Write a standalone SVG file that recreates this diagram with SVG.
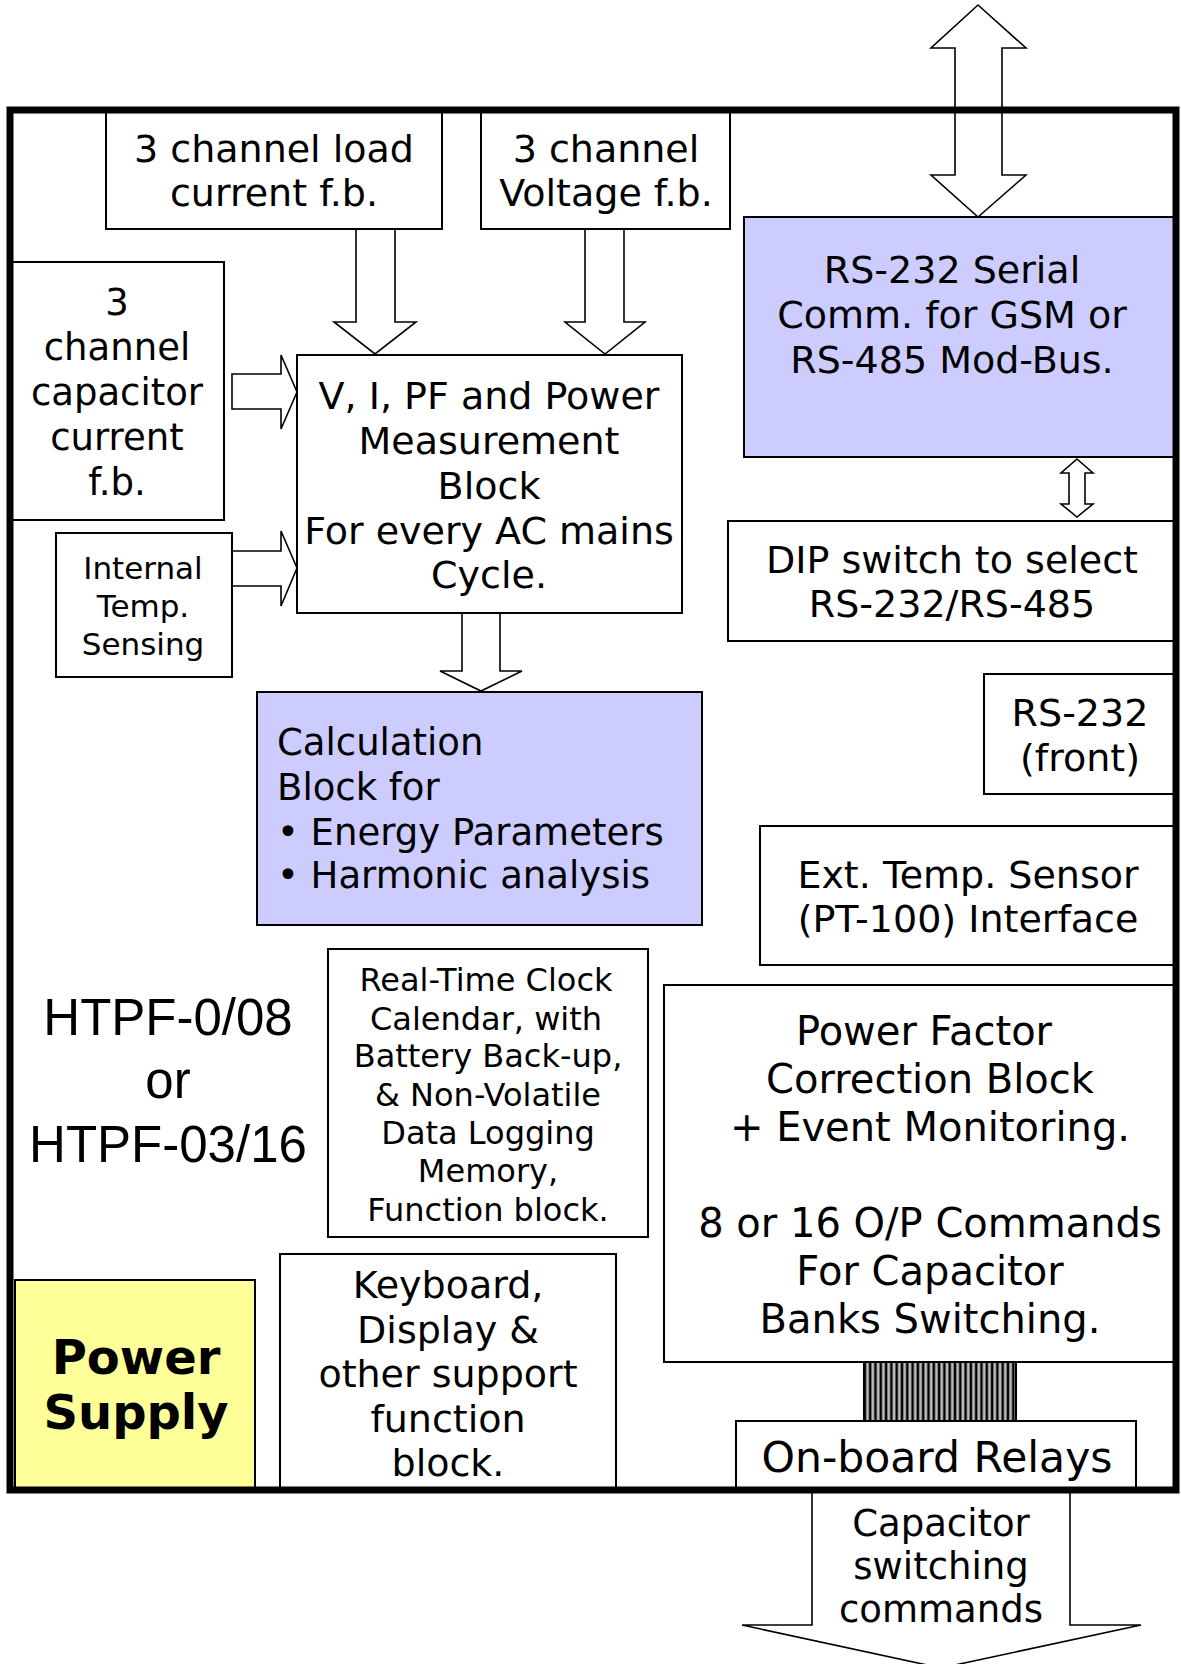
<svg xmlns="http://www.w3.org/2000/svg" width="1181" height="1664" viewBox="0 0 1181 1664">
<style>
.box{fill:#fff;stroke:#000;stroke-width:2}
.blue{fill:#CCCCFF;stroke:#000;stroke-width:2}
.yellow{fill:#FFFF99;stroke:#000;stroke-width:2}
.arr{fill:#fff;stroke:#000;stroke-width:1.6;stroke-linejoin:miter}
text{font-family:"DejaVu Sans",Verdana,sans-serif;fill:#000}
.t38{font-size:38px;text-anchor:middle}
.t37{font-size:37px;text-anchor:middle}
.t40{font-size:40px;text-anchor:middle}
.t32{font-size:32px;text-anchor:middle}
.t31{font-size:31px;text-anchor:middle}
.htpf{font-family:"Liberation Sans",Arial,sans-serif;font-size:51px;text-anchor:middle}
.bold{font-weight:bold;font-size:48px;text-anchor:middle}
</style>
<defs>
<pattern id="stripes" x="864" y="0" width="5.3" height="10" patternUnits="userSpaceOnUse">
<rect x="0" y="0" width="5.3" height="10" fill="#c8c8c8"/>
<rect x="0" y="0" width="1.8" height="10" fill="#000"/>
<rect x="1.8" y="0" width="1" height="10" fill="#6e6e6e"/>
<rect x="4.3" y="0" width="1" height="10" fill="#6e6e6e"/>
</pattern>
</defs>
<rect width="1181" height="1664" fill="#fff"/>

<g id="connectors">
<polygon class="arr" points="978,5 1026,48 1002,48 1002,175 1026,175 978,217 931,175 955,175 955,48 931,48"/>
<polygon class="arr" points="356,229 395,229 395,322 416,322 375,354 334,322 356,322"/>
<polygon class="arr" points="585,229 624,229 624,322 645,322 605,354 565,322 585,322"/>
<polygon class="arr" points="232,374 281,374 281,355 297,392 281,429 281,409 232,409"/>
<polygon class="arr" points="232,551 281,551 281,531 297,568 281,606 281,586 232,586"/>
<polygon class="arr" points="462,613 500,613 500,671 522,671 481,691 440,671 462,671"/>
<polygon class="arr" points="1077,459 1093,473 1085,473 1085,504 1093,504 1077,517 1061,504 1069,504 1069,473 1061,473"/>
<polygon class="arr" points="812,1490 1070,1490 1070,1625 1141,1625 941,1668 742,1625 812,1625"/>
<rect id="hatch" x="864" y="1362" width="152" height="59" fill="url(#stripes)" stroke="#000" stroke-width="2"/>
</g>

<g id="load-current">
<rect class="box" x="106" y="110" width="336" height="119"/>
<text class="t38" x="274" y="162">3 channel load</text>
<text class="t38" x="274" y="206">current f.b.</text>
</g>

<g id="voltage">
<rect class="box" x="481" y="110" width="249" height="119"/>
<text class="t38" x="606" y="162">3 channel</text>
<text class="t38" x="606" y="206">Voltage f.b.</text>
</g>

<g id="rs232-serial">
<rect class="blue" x="744" y="217" width="432" height="240"/>
<text class="t38" x="952" y="283">RS-232 Serial</text>
<text class="t38" x="952" y="328">Comm. for GSM or</text>
<text class="t38" x="952" y="373">RS-485 Mod-Bus.</text>
</g>

<g id="cap-current">
<rect class="box" x="10" y="262" width="214" height="258"/>
<text class="t37" x="117" y="315">3</text>
<text class="t37" x="117" y="360">channel</text>
<text class="t37" x="117" y="405">capacitor</text>
<text class="t37" x="117" y="450">current</text>
<text class="t37" x="117" y="495">f.b.</text>
</g>

<g id="measurement">
<rect class="box" x="297" y="355" width="385" height="258"/>
<text class="t38" x="489" y="409">V, I, PF and Power</text>
<text class="t38" x="489" y="454">Measurement</text>
<text class="t38" x="489" y="499">Block</text>
<text class="t38" x="489" y="544">For every AC mains</text>
<text class="t38" x="489" y="588">Cycle.</text>
</g>

<g id="internal-temp">
<rect class="box" x="56" y="533" width="176" height="144"/>
<text class="t31" x="143" y="579">Internal</text>
<text class="t31" x="143" y="617">Temp.</text>
<text class="t31" x="143" y="655">Sensing</text>
</g>

<g id="dip-switch">
<rect class="box" x="728" y="521" width="448" height="120"/>
<text class="t38" x="952" y="573">DIP switch to select</text>
<text class="t38" x="952" y="617">RS-232/RS-485</text>
</g>

<g id="rs232-front">
<rect class="box" x="984" y="674" width="192" height="120"/>
<text class="t38" x="1080" y="726">RS-232</text>
<text class="t38" x="1080" y="771">(front)</text>
</g>

<g id="calculation">
<rect class="blue" x="257" y="692" width="445" height="233"/>
<text x="277" y="755" font-size="37">Calculation</text>
<text x="277" y="800" font-size="37">Block for</text>
<text x="277" y="845" font-size="37">• Energy Parameters</text>
<text x="277" y="888" font-size="37">• Harmonic analysis</text>
</g>

<g id="ext-temp">
<rect class="box" x="760" y="826" width="416" height="139"/>
<text class="t38" x="968" y="888">Ext. Temp. Sensor</text>
<text class="t38" x="968" y="932">(PT-100) Interface</text>
</g>

<g id="model">
<text class="htpf" x="168" y="1035">HTPF-0/08</text>
<text class="htpf" x="168" y="1098">or</text>
<text class="htpf" x="168" y="1162">HTPF-03/16</text>
</g>

<g id="rtc">
<rect class="box" x="328" y="949" width="320" height="288"/>
<text class="t32" x="486" y="991">Real-Time Clock</text>
<text class="t32" x="486" y="1030">Calendar, with</text>
<text class="t32" x="488" y="1067">Battery Back-up,</text>
<text class="t32" x="488" y="1106">&amp; Non-Volatile</text>
<text class="t32" x="488" y="1144">Data Logging</text>
<text class="t32" x="488" y="1182">Memory,</text>
<text class="t32" x="488" y="1221">Function block.</text>
</g>

<g id="pfc">
<rect class="box" x="664" y="985" width="512" height="377"/>
<text class="t40" x="924" y="1045">Power Factor</text>
<text class="t40" x="930" y="1093">Correction Block</text>
<text class="t40" x="930" y="1141">+ Event Monitoring.</text>
<text class="t40" x="930" y="1237">8 or 16 O/P Commands</text>
<text class="t40" x="930" y="1285">For Capacitor</text>
<text class="t40" x="930" y="1333">Banks Switching.</text>
</g>

<g id="keyboard">
<rect class="box" x="280" y="1254" width="336" height="236"/>
<text class="t38" x="448" y="1298">Keyboard,</text>
<text class="t38" x="448" y="1343">Display &amp;</text>
<text class="t38" x="448" y="1387">other support</text>
<text class="t38" x="448" y="1432">function</text>
<text class="t38" x="448" y="1476">block.</text>
</g>

<g id="power-supply">
<rect class="yellow" x="15" y="1280" width="240" height="210"/>
<text class="bold" x="136" y="1374">Power</text>
<text class="bold" x="136" y="1429">Supply</text>
</g>

<g id="relays">
<rect class="box" x="736" y="1421" width="400" height="69"/>
<text x="937" y="1472" font-size="42.5" text-anchor="middle">On-board Relays</text>
</g>

<g id="output-label">
<text class="t37" x="941" y="1536">Capacitor</text>
<text class="t37" x="941" y="1579">switching</text>
<text class="t37" x="941" y="1622">commands</text>
</g>

<rect id="enclosure" x="10" y="110" width="1166" height="1380" fill="none" stroke="#000" stroke-width="7"/>
</svg>
